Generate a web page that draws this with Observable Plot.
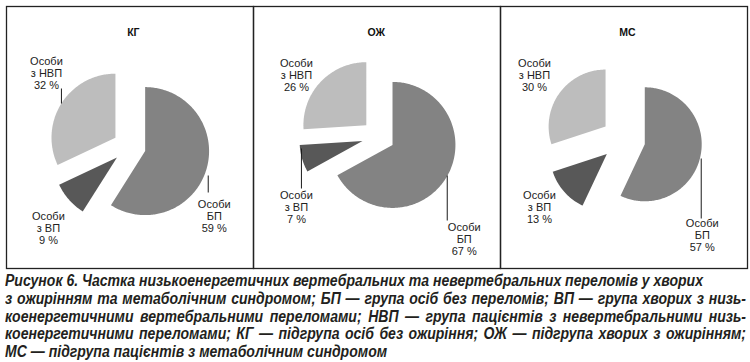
<!DOCTYPE html>
<html><head><meta charset="utf-8">
<script src="https://cdn.jsdelivr.net/npm/d3@7"></script>
<script src="https://cdn.jsdelivr.net/npm/@observablehq/plot@0.6"></script>
<style>
html,body{margin:0;padding:0;background:#fff;}
body{width:750px;height:362px;overflow:hidden;}
#chart svg{display:block;}
#capwrap{margin:2px 0 0 5px;width:741px;height:90px;overflow:visible;}
#caption{transform-origin:0 0;font-family:"Liberation Sans Narrow","Arial Narrow","Liberation Sans",Arial,sans-serif;font-style:italic;font-weight:bold;font-size:16px;line-height:17.8px;color:#231f20;}
#caption div{white-space:nowrap;}
#caption div.j{text-align:justify;text-align-last:justify;}
#caption b{font-weight:900;}
</style></head><body>
<div id="chart"></div>
<div id="capwrap"><div id="caption">
<div><span id="l1">Рисунок 6. Частка низькоенергетичних вертебральних та невертебральних переломів у хворих</span></div>
<div class="j">з ожирінням та метаболічним синдромом; <b>БП</b> — група осіб без переломів; <b>ВП</b> — група хворих з низь-</div>
<div class="j">коенергетичними вертебральними переломами; <b>НВП</b> — група пацієнтів з невертебральними низь-</div>
<div class="j">коенергетичними переломами; <b>КГ</b> — підгрупа осіб без ожиріння; <b>ОЖ</b> — підгрупа хворих з ожирінням;</div>
<div><b>МС</b> — підгрупа пацієнтів з метаболічним синдромом</div>
</div></div>
<script>
// ---- data ----
const groups = ["КГ", "ОЖ", "МС"];
const categories = ["БП", "ВП", "НВП"];
const categoryLabels = ["Особи\nБП", "Особи\nз ВП", "Особи\nз НВП"];
const valuesBP = [59, 67, 57];
const valuesVP = [9, 7, 13];
const valuesNVP = [32, 26, 30];

// ---- styles / layout (panel-local pixel units) ----
const colors = ["#838383", "#585858", "#bdbdbd"];
const W = 742 / 3, H = 262;
const layout = [
  {cx: 123, cy: 140, r: 64, d: 16.5, title: [127, 26],
   label: {"БП": [208, 210], "ВП": [42, 222], "НВП": [40, 67]},
   leaders: [["НВП", 55, 82, 97], ["БП", 202, 169, 186]]},
  {cx: 125, cy: 130, r: 63, d: 16.5, title: [123, 26],
   label: {"БП": [211, 233], "ВП": [43, 201], "НВП": [43, 69]},
   leaders: [["ВП", 48, 142, 182], ["БП", 194, 169, 214]]},
  {cx: 123, cy: 133, r: 57, d: 22, title: [127, 26],
   label: {"БП": [202, 229], "ВП": [39, 201], "НВП": [34, 69]},
   leaders: [["БП", 201, 152, 212]]}
];

// ---- derived geometry ----
const slices = [], labels = [], leaders = [];
groups.forEach((g, gi) => {
  const vals = [valuesBP[gi], valuesVP[gi], valuesNVP[gi]];
  const L = layout[gi];
  const arcs = d3.pie().sort(null).startAngle(0).endAngle(2 * Math.PI)(vals);
  arcs.forEach((a, ci) => {
    const cat = categories[ci];
    const key = g + "-" + cat;
    const mid = (a.startAngle + a.endAngle) / 2;
    const ox = L.cx + L.d * Math.sin(mid), oy = L.cy - L.d * Math.cos(mid);
    slices.push({g, cat, key, x: ox, y: oy});
    const n = Math.max(2, Math.ceil((a.endAngle - a.startAngle) / (Math.PI / 180)));
    for (let k = 0; k <= n; k++) {
      const t = a.startAngle + (a.endAngle - a.startAngle) * k / n;
      slices.push({g, cat, key, x: ox + L.r * Math.sin(t), y: oy - L.r * Math.cos(t)});
    }
    const p = L.label[cat];
    labels.push({g, x: p[0], y: p[1], text: categoryLabels[ci] + "\n" + vals[ci] + " %"});
  });
  L.leaders.forEach(([cat, x, y1, y2]) => leaders.push({g, x, y1, y2}));
});
const titles = groups.map((g, gi) => ({g, x: layout[gi].title[0], y: layout[gi].title[1]}));

const chart = Plot.plot({
  width: 750, height: 270,
  marginLeft: 5, marginRight: 3, marginTop: 6, marginBottom: 2,
  fx: {domain: groups, padding: 0, axis: null},
  x: {domain: [0, W], axis: null},
  y: {domain: [0, H], reverse: true, axis: null},
  color: {domain: categories, range: colors},
  style: {fontFamily: "'Liberation Sans', Arial, sans-serif", fontSize: "11px", color: "#222", background: "#fff"},
  marks: [
    Plot.line(slices, {fx: "g", x: "x", y: "y", z: "key", fill: "cat", stroke: "none", curve: "linear"}),
    Plot.link(leaders, {fx: "g", x1: "x", x2: "x", y1: "y1", y2: "y2", stroke: "#1a1a1a", strokeWidth: 1}),
    Plot.text(labels, {fx: "g", x: "x", y: "y", text: "text", lineHeight: 1.1, fontSize: 11, fill: "#222"}),
    Plot.text(titles, {fx: "g", x: "x", y: "y", text: "g", fontWeight: "bold", fontSize: 10.5, fill: "#111"}),
    Plot.frame({stroke: "#222", strokeWidth: 1.3})
  ]
});
document.getElementById("chart").appendChild(chart);

// condense caption to match the narrow typeface of the reference
const cap = document.getElementById("caption");
const natural = document.getElementById("l1").getBoundingClientRect().width;
const s = Math.min(1, 698 / natural);
cap.style.width = (741 / s) + "px";
cap.style.transform = "scaleX(" + s + ")";
</script>
</body></html>
